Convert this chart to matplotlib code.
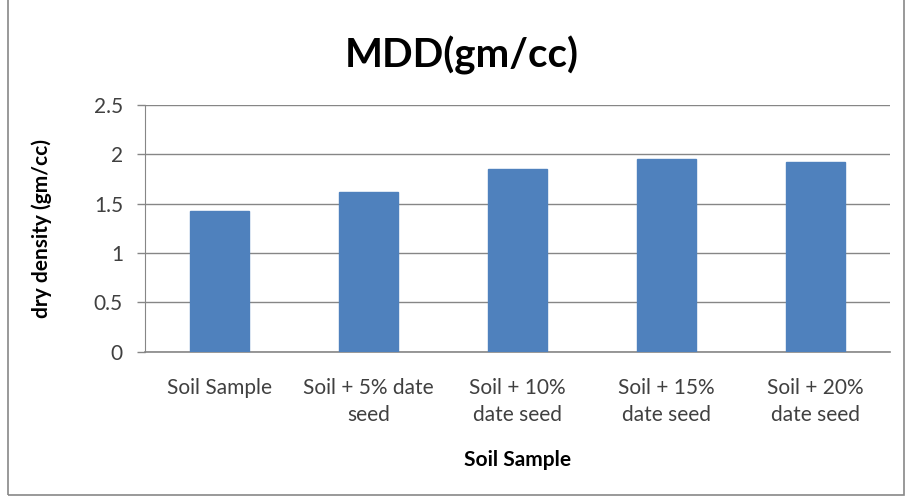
import matplotlib
matplotlib.use("Agg")
import matplotlib.pyplot as plt
from matplotlib.patches import Rectangle

categories = ["Soil Sample", "Soil + 5% date\nseed", "Soil + 10%\ndate seed",
              "Soil + 15%\ndate seed", "Soil + 20%\ndate seed"]
values = [1.43, 1.62, 1.85, 1.95, 1.92]
yticks = [0, 0.5, 1, 1.5, 2, 2.5]
ytick_labels = ["0", "0.5", "1", "1.5", "2", "2.5"]

plt.rcParams['font.family'] = ['Lato', 'DejaVu Sans']

fig = plt.figure(figsize=(9.07, 4.97), dpi=100)
ax = fig.add_axes([0.160, 0.292, 0.821, 0.497])

x = list(range(len(categories)))
ax.bar(x, values, width=0.4, color="#4F81BD", edgecolor="#4F81BD", zorder=3)

ax.set_xlim(-0.5, len(categories) - 0.5)
ax.set_ylim(0, 2.5)
ax.set_yticks(yticks)
ax.set_yticklabels(ytick_labels, fontsize=15, color="#404040")
ax.set_xticks(x)
ax.set_xticklabels(categories, fontsize=15, color="#404040", linespacing=1.4)
ax.tick_params(axis='x', length=0, pad=19)
ax.tick_params(axis='y', length=6, width=1, color="#868686", pad=10, direction='out')

ax.yaxis.grid(True, color="#868686", linewidth=1)
ax.set_axisbelow(True)
for s in ['top', 'right']:
    ax.spines[s].set_visible(False)
ax.spines['left'].set_color("#868686")
ax.spines['bottom'].set_color("#868686")
ax.spines['bottom'].set_linewidth(1.2)

ax.set_ylabel("dry density (gm/cc)", fontsize=15, fontweight='bold', labelpad=30)
ax.set_xlabel("Soil Sample", fontsize=15, fontweight='bold', labelpad=18)

fig.text(0.509, 0.888, "MDD(gm/cc)", fontsize=29, fontweight='bold',
         ha='center', va='center')

fig.patches.append(Rectangle((0.009, 0.005), 0.988, 1.2, transform=fig.transFigure,
                             fill=False, edgecolor="#888888", linewidth=1.2))

fig.savefig("out.png", dpi=100)
